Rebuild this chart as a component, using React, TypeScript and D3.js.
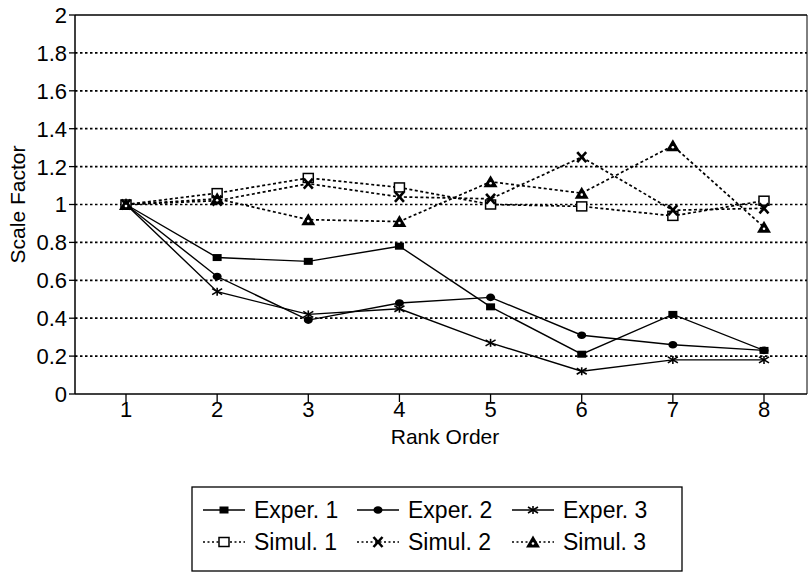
import React from 'react'
import * as d3 from 'd3'

const W = 809
const H = 578

// rank order 1..8
const ranks = [1, 2, 3, 4, 5, 6, 7, 8]
const yTicks = [0, 0.2, 0.4, 0.6, 0.8, 1, 1.2, 1.4, 1.6, 1.8, 2]

const exper1 = [1.0, 0.72, 0.7, 0.78, 0.46, 0.21, 0.42, 0.23]
const exper2 = [1.0, 0.62, 0.39, 0.48, 0.51, 0.31, 0.26, 0.23]
const exper3 = [1.0, 0.54, 0.42, 0.45, 0.27, 0.12, 0.18, 0.18]
const simul1 = [1.0, 1.06, 1.14, 1.09, 1.0, 0.99, 0.94, 1.02]
const simul2 = [1.0, 1.02, 1.11, 1.04, 1.03, 1.25, 0.97, 0.98]
const simul3 = [1.0, 1.03, 0.92, 0.91, 1.12, 1.06, 1.31, 0.88]

const seriesNames = ['Exper. 1', 'Exper. 2', 'Exper. 3', 'Simul. 1', 'Simul. 2', 'Simul. 3']
const seriesValues = [exper1, exper2, exper3, simul1, simul2, simul3]
const seriesMarks = ['square', 'circle', 'star', 'openSquare', 'cross', 'triangle']

const FONT = '"Liberation Sans", Arial, Helvetica, sans-serif'

const plot = { left: 75, right: 807, top: 15, bottom: 394 }

function Marker({ kind, x, y }) {
  switch (kind) {
    case 'square':
      return <rect x={x - 4.5} y={y - 3.5} width={9} height={7} fill="#000" />
    case 'circle':
      return <ellipse cx={x} cy={y} rx={4.5} ry={3.8} fill="#000" />
    case 'star':
      return (
        <g stroke="#000" strokeWidth={1.6}>
          <line x1={x - 5} y1={y - 3} x2={x + 5} y2={y + 3} />
          <line x1={x - 5} y1={y + 3} x2={x + 5} y2={y - 3} />
          <line x1={x} y1={y - 4} x2={x} y2={y + 4} />
        </g>
      )
    case 'openSquare':
      return <rect x={x - 5} y={y - 4.5} width={10} height={9} fill="#fff" stroke="#000" strokeWidth={1.5} />
    case 'cross':
      return (
        <g stroke="#000" strokeWidth={2.6}>
          <line x1={x - 4.5} y1={y - 5} x2={x + 4.5} y2={y + 5} />
          <line x1={x - 4.5} y1={y + 5} x2={x + 4.5} y2={y - 5} />
        </g>
      )
    case 'triangle':
      return (
        <g>
          <path d={`M${x},${y - 6.5}L${x + 7},${y + 5.5}L${x - 7},${y + 5.5}Z`} fill="#000" />
          <circle cx={x} cy={y + 1.5} r={1.3} fill="#fff" />
        </g>
      )
    default:
      return null
  }
}

export default function App() {
  const x = d3.scaleLinear().domain([1, 8]).range([126, 764])
  const y = d3.scaleLinear().domain([0, 2]).range([plot.bottom, plot.top])
  const line = d3.line<number>()
    .x((d, i) => x(ranks[i]))
    .y(d => y(d))

  const legendRows = [510, 542]
  const legendCols = [203, 357, 512]

  return (
    <svg width={W} height={H} style={{ position: 'absolute', left: 0, top: 0, background: '#fff' }} fontFamily={FONT}>
      {/* grid */}
      {yTicks.filter(t => t > 0 && t < 2).map(t => (
        <line key={t} x1={plot.left} x2={plot.right} y1={y(t)} y2={y(t)}
          stroke="#000" strokeWidth={1.7} strokeDasharray="2.5,2.5" />
      ))}

      {/* frame */}
      <line x1={plot.left} x2={plot.right} y1={plot.top} y2={plot.top} stroke="#000" strokeWidth={1.3} />
      <line x1={plot.right} x2={plot.right} y1={plot.top} y2={plot.bottom} stroke="#000" strokeWidth={1} />
      <line x1={plot.left} x2={plot.left} y1={plot.top} y2={plot.bottom} stroke="#000" strokeWidth={1.5} />
      <line x1={plot.left} x2={plot.right} y1={plot.bottom} y2={plot.bottom} stroke="#000" strokeWidth={1.5} />

      {/* y axis */}
      {yTicks.map(t => (
        <g key={t}>
          <line x1={plot.left - 6} x2={plot.left} y1={y(t)} y2={y(t)} stroke="#000" strokeWidth={1.3} />
          <text x={plot.left - 8} y={y(t)} dy="0.36em" textAnchor="end" fontSize={22}>{+t.toFixed(1)}</text>
        </g>
      ))}
      <text transform={`translate(25,${y(1)}) rotate(-90)`} textAnchor="middle" fontSize={21}>Scale Factor</text>

      {/* x axis */}
      {ranks.map(r => (
        <g key={r}>
          <line x1={x(r)} x2={x(r)} y1={plot.bottom} y2={plot.bottom + 8} stroke="#000" strokeWidth={1.3} />
          <text x={x(r)} y={plot.bottom + 23} textAnchor="middle" fontSize={22}>{r}</text>
        </g>
      ))}
      <text x={445} y={444} textAnchor="middle" fontSize={21}>Rank Order</text>

      {/* series */}
      {seriesValues.map((vals, si) => (
        <path key={si} d={line(vals)} fill="none" stroke="#000"
          strokeWidth={si < 3 ? 1.4 : 1.7} strokeDasharray={si < 3 ? undefined : '3,2.5'} />
      ))}
      {seriesValues.map((vals, si) => vals.map((v, i) => (
        <Marker key={si + '-' + i} kind={seriesMarks[si]} x={x(ranks[i])} y={y(v)} />
      )))}

      {/* legend */}
      <rect x={192} y={487} width={490} height={84} fill="none" stroke="#000" strokeWidth={1.3} />
      {seriesNames.map((name, si) => {
        const row = Math.floor(si / 3)
        const col = si % 3
        const lx = legendCols[col]
        const ly = legendRows[row]
        return (
          <g key={name}>
            <line x1={lx} x2={lx + 42} y1={ly} y2={ly} stroke="#000"
              strokeWidth={row === 0 ? 1.4 : 1.5} strokeDasharray={row === 0 ? undefined : '2,2.5'} />
            <Marker kind={seriesMarks[si]} x={lx + 21} y={ly} />
            <text x={lx + 51} y={ly} dy="0.36em" fontSize={23}>{name}</text>
          </g>
        )
      })}
    </svg>
  )
}
